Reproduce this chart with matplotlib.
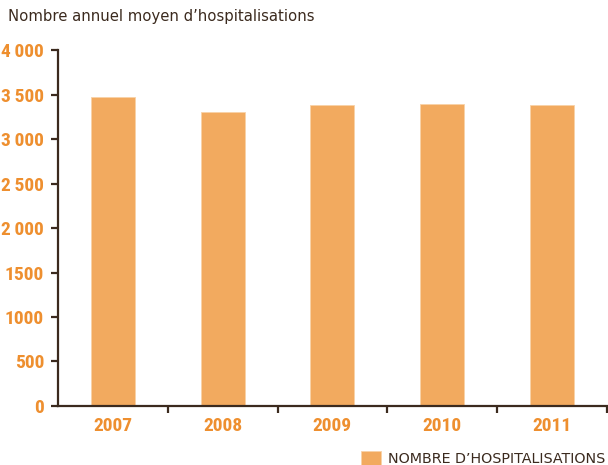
import numpy as np
import matplotlib.pyplot as plt
from matplotlib import font_manager

# Données
annees = ['2007', '2008', '2009', '2010', '2011']
hospitalisations = [3475, 3310, 3382, 3400, 3382]
yticks = [0, 500, 1000, 1500, 2000, 2500, 3000, 3500, 4000]
ytick_labels = ['0', '500', '1000', '1500', '2\u2009000', '2\u2009500',
                '3\u2009000', '3\u2009500', '4\u2009000']

orange_bar = '#F2AA5F'
orange_txt = '#EE8F2F'
brun = '#3B2A1E'

# police étroite si disponible
noms = {f.name for f in font_manager.fontManager.ttflist}
etroites = [n for n in ['Roboto Condensed', 'DejaVu Sans Condensed', 'Liberation Sans Narrow']
            if n in noms]
if etroites:
    tick_font = dict(family=[etroites[0], 'DejaVu Sans'], fontweight='bold',
                     fontsize=14, color=orange_txt)
else:
    tick_font = dict(family=['DejaVu Sans'], fontweight='bold',
                     fontsize=11.5, color=orange_txt)

fig = plt.figure(figsize=(6.08, 4.65), dpi=100)
ax = fig.add_axes([0.0954, 0.127, 0.9026, 0.765])

x = np.arange(len(annees))
ax.bar(x, hospitalisations, width=0.4, color=orange_bar,
       edgecolor='#F8D2A8', linewidth=0.6, label="NOMBRE D\u2019HOSPITALISATIONS")

ax.set_xlim(-0.5, len(annees) - 0.5)
ax.set_ylim(0, 4000)

for s in ['top', 'right']:
    ax.spines[s].set_visible(False)
for s in ['left', 'bottom']:
    ax.spines[s].set_color(brun)
    ax.spines[s].set_linewidth(1.6)

ax.set_yticks(yticks)
ax.set_yticklabels(ytick_labels, **tick_font)
ax.tick_params(axis='y', length=5, width=1.6, color=brun, pad=5)

ax.set_xticks(x)
ax.set_xticklabels(annees, **tick_font)
ax.tick_params(axis='x', which='major', length=0, pad=8)
ax.set_xticks(x + 0.5, minor=True)
ax.tick_params(axis='x', which='minor', length=5, width=1.6, color=brun)

fig.text(0.013, 0.965, "Nombre annuel moyen d\u2019hospitalisations",
         fontsize=10.7, color=brun, ha='left', va='center')

ax.legend(loc='lower right', bbox_to_anchor=(1.008, -0.185), frameon=False,
          handlelength=1.4, handleheight=1.2, handletextpad=0.5,
          prop=dict(size=10.3), labelcolor=brun, borderaxespad=0)

fig.savefig('out.png', dpi=100)
